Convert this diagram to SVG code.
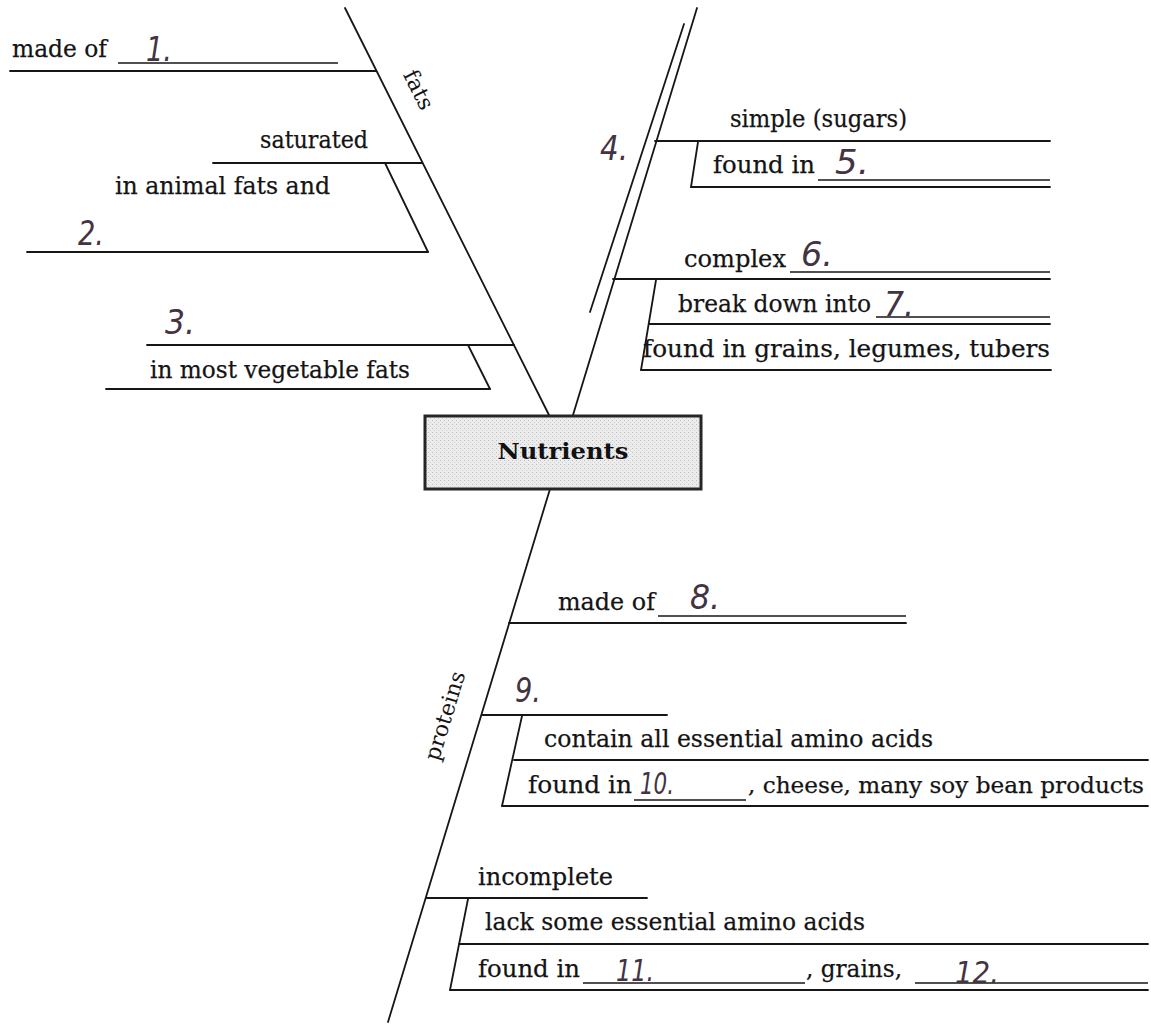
<svg xmlns="http://www.w3.org/2000/svg" width="1151" height="1025" viewBox="0 0 1151 1025">
<style>
.ln{stroke:#161616;stroke-width:1.8;fill:none;stroke-linecap:round}
.ul{stroke:#161616;stroke-width:1.5;fill:none}
.t{font-family:"DejaVu Serif","Liberation Serif",serif;font-size:25px;fill:#141414;stroke:#141414;stroke-width:0.25}
.lb{font-family:"DejaVu Serif","Liberation Serif",serif;font-size:22px;fill:#141414}
.h{font-family:"DejaVu Sans","Liberation Sans",sans-serif;font-style:italic;font-size:34px;fill:#433343}
.h2{font-family:"DejaVu Sans","Liberation Sans",sans-serif;font-style:italic;font-size:30px;fill:#433343}
</style>
<defs>
<pattern id="dots" width="4" height="4" patternUnits="userSpaceOnUse">
<rect width="4" height="4" fill="#ececec"/>
<rect x="0" y="0" width="1" height="1" fill="#bdbdbd"/>
<rect x="2" y="2" width="1" height="1" fill="#cfcfcf"/>
</pattern>
</defs>
<rect width="1151" height="1025" fill="#ffffff"/>

<g id="connectors">
<line class="ln" x1="345" y1="8" x2="549" y2="415"/>
<line class="ln" x1="697" y1="8" x2="573" y2="415"/>
<line class="ln" x1="684" y1="24" x2="590" y2="312"/>
<line class="ln" x1="550" y1="489" x2="388" y2="1022"/>
</g>

<g id="fats">
<text class="lb" transform="translate(412,93) rotate(63.3)" text-anchor="middle">fats</text>
<text class="t" x="12" y="57" textLength="95" lengthAdjust="spacingAndGlyphs">made of</text>
<line class="ul" x1="118" y1="63" x2="338" y2="63"/>
<line class="ln" x1="10" y1="71" x2="376" y2="71"/>
<text class="h" x="146" y="61" textLength="26" lengthAdjust="spacingAndGlyphs">1.</text>
<text class="t" x="260" y="148" textLength="108" lengthAdjust="spacingAndGlyphs">saturated</text>
<line class="ln" x1="213" y1="163" x2="422" y2="163"/>
<text class="t" x="115" y="194" textLength="215" lengthAdjust="spacingAndGlyphs">in animal fats and</text>
<line class="ln" x1="385" y1="163" x2="428" y2="252"/>
<line class="ln" x1="27" y1="252" x2="428" y2="252"/>
<text class="h" x="78" y="245" textLength="26" lengthAdjust="spacingAndGlyphs">2.</text>
<text class="h" x="165" y="334" textLength="30" lengthAdjust="spacingAndGlyphs">3.</text>
<line class="ln" x1="147" y1="345" x2="514" y2="345"/>
<line class="ln" x1="468" y1="345" x2="490" y2="389"/>
<line class="ln" x1="106" y1="389" x2="490" y2="389"/>
<text class="t" x="150" y="378" textLength="260" lengthAdjust="spacingAndGlyphs">in most vegetable fats</text>
</g>

<g id="carbohydrates">
<text class="h" x="600" y="160" textLength="28" lengthAdjust="spacingAndGlyphs">4.</text>
<text class="t" x="730" y="127" textLength="177" lengthAdjust="spacingAndGlyphs">simple (sugars)</text>
<line class="ln" x1="655" y1="141" x2="1050" y2="141"/>
<line class="ln" x1="698" y1="142" x2="691" y2="187"/>
<text class="t" x="713" y="173" textLength="102" lengthAdjust="spacingAndGlyphs">found in</text>
<line class="ul" x1="818" y1="180" x2="1050" y2="180"/>
<line class="ln" x1="691" y1="187" x2="1050" y2="187"/>
<text class="h" x="835" y="174" textLength="34" lengthAdjust="spacingAndGlyphs">5.</text>
<text class="t" x="684" y="267" textLength="102" lengthAdjust="spacingAndGlyphs">complex</text>
<line class="ul" x1="790" y1="272" x2="1050" y2="272"/>
<line class="ln" x1="613" y1="279" x2="1050" y2="279"/>
<text class="h" x="801" y="266" textLength="32" lengthAdjust="spacingAndGlyphs">6.</text>
<line class="ln" x1="656" y1="280" x2="641" y2="370"/>
<text class="t" x="678" y="312" textLength="193" lengthAdjust="spacingAndGlyphs">break down into</text>
<line class="ul" x1="876" y1="317" x2="1050" y2="317"/>
<line class="ln" x1="649" y1="324" x2="1050" y2="324"/>
<text class="h" x="884" y="316" textLength="30" lengthAdjust="spacingAndGlyphs">7.</text>
<text class="t" x="643" y="357" textLength="407" lengthAdjust="spacingAndGlyphs">found in grains, legumes, tubers</text>
<line class="ln" x1="641" y1="370" x2="1051" y2="370"/>
</g>

<g id="nutrients">
<rect x="425" y="416" width="276" height="73" fill="url(#dots)" stroke="#262626" stroke-width="3"/>
<text x="563" y="459" text-anchor="middle" font-family="DejaVu Serif,Liberation Serif,serif" font-weight="bold" font-size="23" fill="#111111" textLength="131" lengthAdjust="spacingAndGlyphs">Nutrients</text>
</g>

<g id="proteins">
<text class="lb" transform="translate(452,718) rotate(-73)" text-anchor="middle">proteins</text>
<text class="t" x="558" y="610" textLength="97" lengthAdjust="spacingAndGlyphs">made of</text>
<line class="ul" x1="658" y1="616" x2="906" y2="616"/>
<line class="ln" x1="509" y1="623" x2="906" y2="623"/>
<text class="h" x="690" y="609" textLength="30" lengthAdjust="spacingAndGlyphs">8.</text>
<text class="h" x="515" y="702" textLength="26" lengthAdjust="spacingAndGlyphs">9.</text>
<line class="ln" x1="482" y1="715" x2="667" y2="715"/>
<line class="ln" x1="522" y1="716" x2="502" y2="806"/>
<text class="t" x="544" y="747" textLength="389" lengthAdjust="spacingAndGlyphs">contain all essential amino acids</text>
<line class="ln" x1="514" y1="760" x2="1148" y2="760"/>
<text class="t" x="528" y="793" textLength="104" lengthAdjust="spacingAndGlyphs">found in</text>
<line class="ul" x1="634" y1="800" x2="746" y2="800"/>
<text class="h2" x="640" y="794" textLength="34" lengthAdjust="spacingAndGlyphs">10.</text>
<text class="t" x="748" y="793" font-size="23" textLength="396" lengthAdjust="spacingAndGlyphs" style="font-size:23px">, cheese, many soy bean products</text>
<line class="ln" x1="502" y1="806" x2="1148" y2="806"/>
<text class="t" x="478" y="885" textLength="135" lengthAdjust="spacingAndGlyphs">incomplete</text>
<line class="ln" x1="426" y1="898" x2="647" y2="898"/>
<line class="ln" x1="468" y1="899" x2="450" y2="990"/>
<text class="t" x="485" y="930" textLength="380" lengthAdjust="spacingAndGlyphs">lack some essential amino acids</text>
<line class="ln" x1="459" y1="944" x2="1148" y2="944"/>
<text class="t" x="478" y="977" textLength="102" lengthAdjust="spacingAndGlyphs">found in</text>
<line class="ul" x1="583" y1="983" x2="805" y2="983"/>
<text class="h2" x="616" y="981" textLength="38" lengthAdjust="spacingAndGlyphs">11.</text>
<text class="t" x="806" y="977" textLength="96" lengthAdjust="spacingAndGlyphs">, grains,</text>
<line class="ul" x1="915" y1="983" x2="1148" y2="983"/>
<text class="h2" x="955" y="983" textLength="44" lengthAdjust="spacingAndGlyphs">12.</text>
<line class="ln" x1="450" y1="990" x2="1148" y2="990"/>
</g>
</svg>
